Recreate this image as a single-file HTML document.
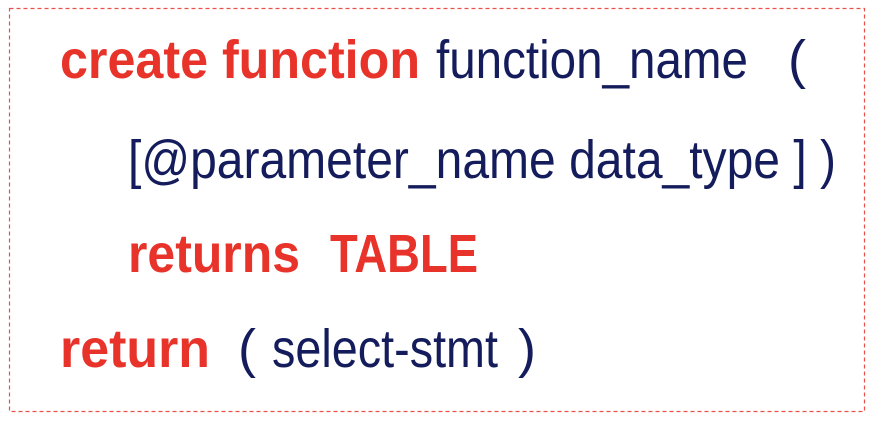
<!DOCTYPE html>
<html><head><meta charset="utf-8"><style>
html,body{margin:0;padding:0;background:#fff;width:872px;height:422px;overflow:hidden}
</style></head><body>
<svg width="872" height="422" xmlns="http://www.w3.org/2000/svg" style="display:block">
<rect x="9.5" y="8.5" width="855" height="403" fill="none" stroke="#e8504a" stroke-width="1.2" stroke-dasharray="4,3"/>
<g font-family="Liberation Sans, sans-serif" font-size="54">
<text x="60" y="78" fill="#e8332a" font-weight="bold" textLength="360" lengthAdjust="spacingAndGlyphs">create function</text>
<text x="436" y="78" fill="#141c5c" textLength="312" lengthAdjust="spacingAndGlyphs">function_name</text>
<text x="788" y="78" fill="#141c5c">(</text>
<text x="128" y="178" fill="#141c5c" textLength="708" lengthAdjust="spacingAndGlyphs">[@parameter_name data_type ] )</text>
<text x="128" y="272" fill="#e8332a" font-weight="bold" textLength="172" lengthAdjust="spacingAndGlyphs">returns</text>
<text x="330" y="272" fill="#e8332a" font-weight="bold" textLength="148" lengthAdjust="spacingAndGlyphs">TABLE</text>
<text x="60" y="367" fill="#e8332a" font-weight="bold" textLength="150" lengthAdjust="spacingAndGlyphs">return</text>
<text x="238" y="367" fill="#141c5c">(</text>
<text x="272" y="367" fill="#141c5c" textLength="226" lengthAdjust="spacingAndGlyphs">select-stmt</text>
<text x="518" y="367" fill="#141c5c">)</text>
</g>
</svg>
</body></html>
